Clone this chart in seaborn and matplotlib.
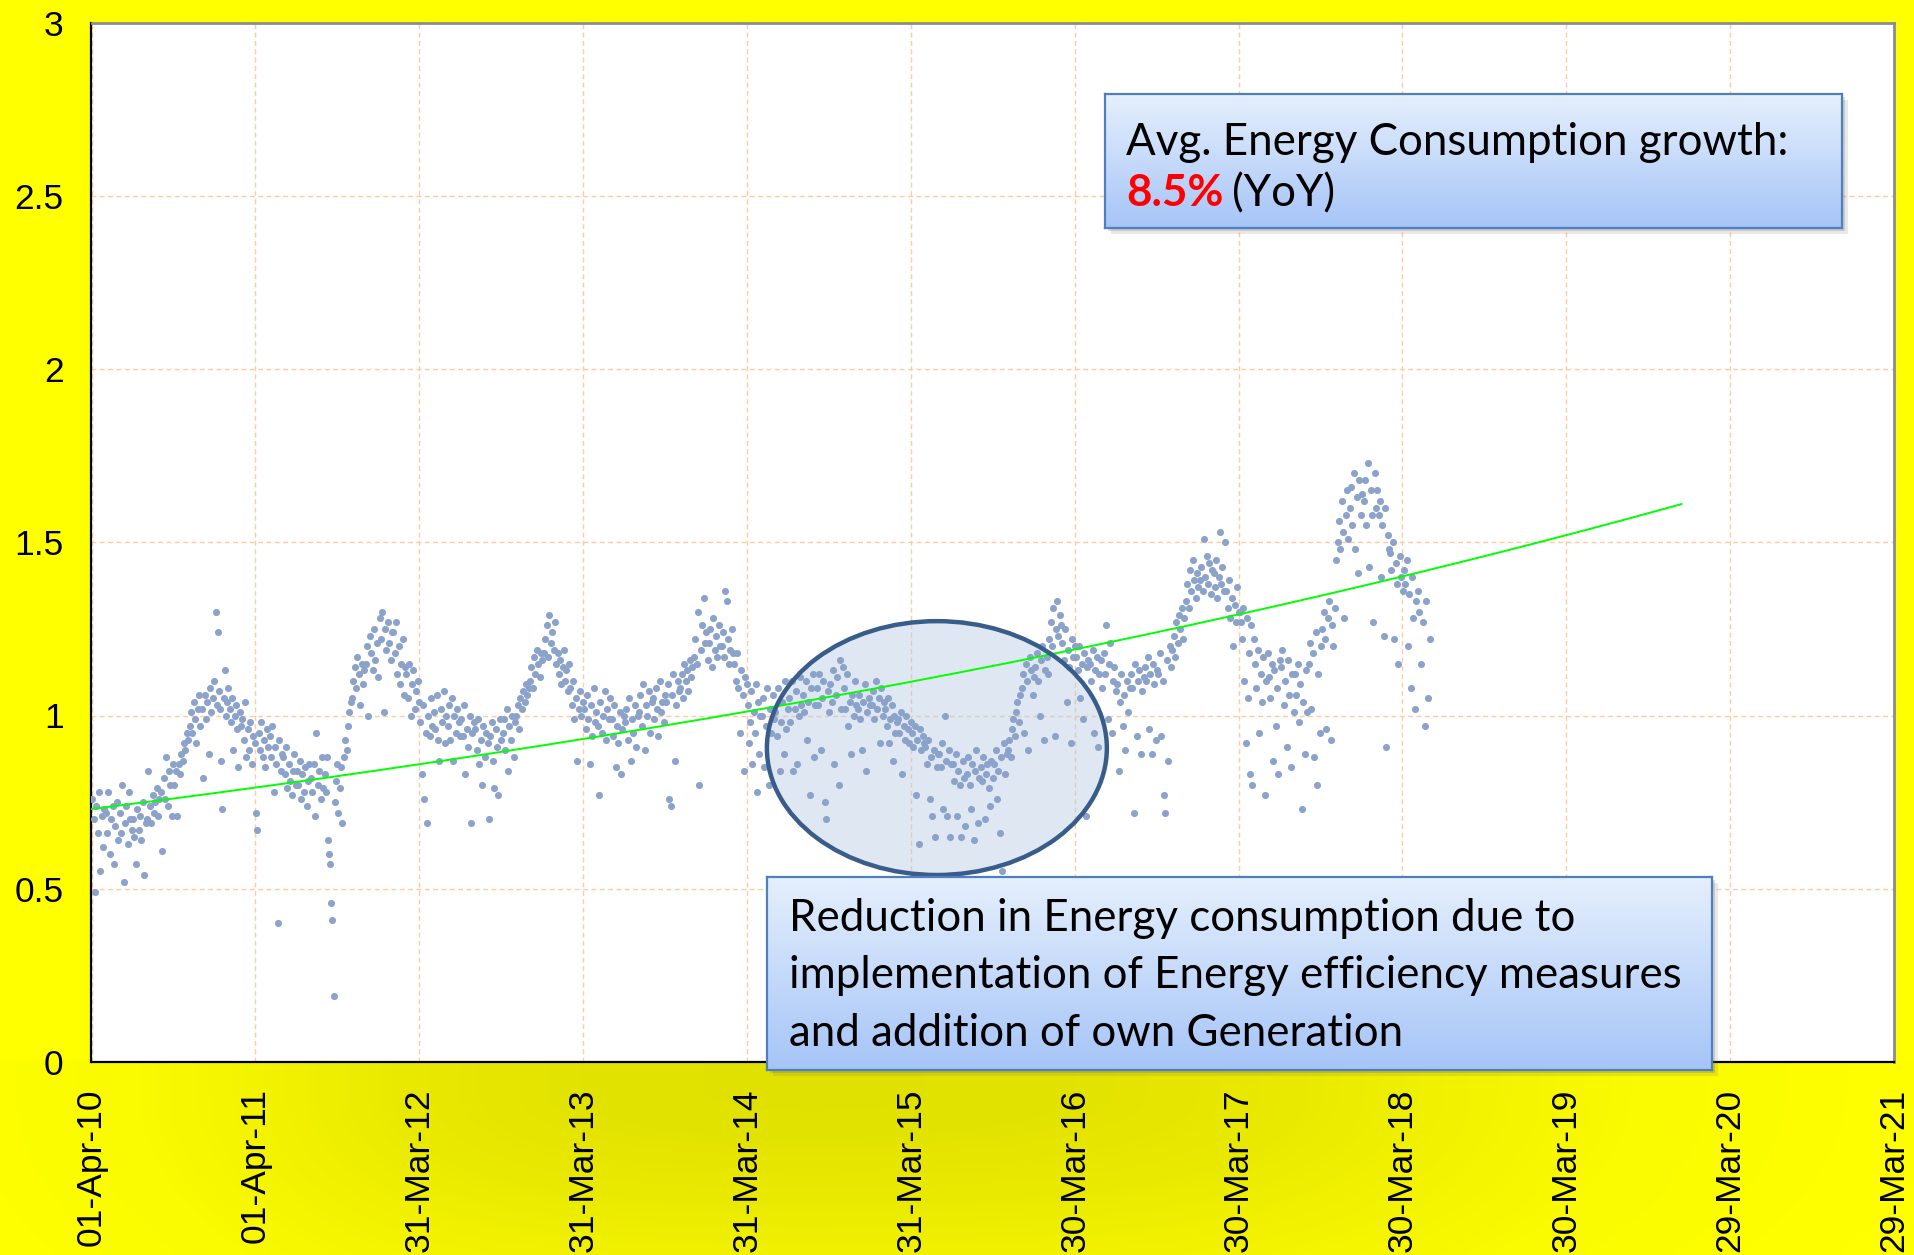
import numpy as np
import pandas as pd
import matplotlib
matplotlib.use("Agg")
import matplotlib.pyplot as plt
import seaborn as sns
from matplotlib.patches import Ellipse, Rectangle

# ---------------- data (monthly samples of daily values) -------------
first_month = "2010-04-01"
fy2010 = [
    [0.76, 0.70, 0.49, 0.74, 0.66, 0.78, 0.55, 0.71, 0.62, 0.73],
    [0.72, 0.66, 0.78, 0.60, 0.70, 0.74, 0.57, 0.68, 0.75, 0.64],
    [0.72, 0.66, 0.80, 0.52, 0.69, 0.74, 0.63, 0.78, 0.70, 0.67],
    [0.70, 0.65, 0.57, 0.73, 0.67, 0.71, 0.64, 0.75, 0.54, 0.69],
    [0.70, 0.84, 0.74, 0.69, 0.77, 0.72, 0.75, 0.79, 0.71, 0.76],
    [0.78, 0.61, 0.82, 0.76, 0.88, 0.74, 0.84, 0.80, 0.71, 0.86],
    [0.80, 0.84, 0.71, 0.86, 0.83, 0.89, 0.87, 0.92, 0.90, 0.95],
    [0.93, 0.97, 1.01, 0.95, 1.04, 0.99, 0.92, 1.02, 1.06, 0.97],
    [1.02, 0.82, 1.06, 0.99, 1.04, 0.89, 1.08, 1.01, 1.05, 1.10],
    [1.30, 1.03, 1.24, 1.07, 1.02, 0.87, 0.73, 1.05, 1.13, 1.00, 1.04, 1.08],
    [1.02, 0.98, 1.05, 0.90, 1.00, 1.03, 0.96, 0.85, 1.01, 0.97],
    [0.99, 0.93, 1.04, 0.88, 0.96, 0.90, 0.98, 0.86, 0.94, 0.92],
]
fy2011 = [
    [0.72, 0.67, 0.95, 0.90, 0.98, 0.88, 0.93, 0.85, 0.96, 0.91],
    [0.94, 0.88, 0.97, 0.78, 0.91, 0.86, 0.40, 0.93, 0.84, 0.89],
    [0.88, 0.83, 0.91, 0.79, 0.86, 0.81, 0.77, 0.84, 0.89, 0.80],
    [0.84, 0.80, 0.87, 0.76, 0.83, 0.78, 0.85, 0.74, 0.81, 0.86],
    [0.82, 0.78, 0.86, 0.71, 0.95, 0.80, 0.84, 0.76, 0.88, 0.79],
    [0.83, 0.78, 0.88, 0.64, 0.60, 0.57, 0.46, 0.41, 0.19, 0.75, 0.81, 0.86],
    [0.72, 0.79, 0.85, 0.69, 0.88, 0.93, 0.90, 0.97, 1.01, 1.04],
    [1.05, 1.10, 1.14, 1.08, 1.17, 1.12, 1.03, 1.15, 1.09, 1.13],
    [1.15, 1.20, 1.00, 1.23, 1.18, 1.13, 1.25, 1.16, 1.21, 1.11],
    [1.28, 1.22, 1.30, 1.01, 1.25, 1.19, 1.27, 1.21, 1.16, 1.24],
    [1.24, 1.18, 1.27, 1.12, 1.20, 1.09, 1.15, 1.22, 1.06, 1.14],
    [1.12, 1.05, 1.15, 1.00, 1.09, 1.13, 1.02, 1.07, 1.10, 1.04],
]
fy2012 = [
    [0.98, 0.83, 1.03, 0.76, 0.95, 0.69, 1.00, 0.94, 1.05, 0.97],
    [1.01, 0.96, 1.06, 0.93, 0.87, 1.02, 0.98, 1.07, 0.92, 1.00],
    [0.97, 1.03, 0.93, 1.05, 0.87, 1.00, 0.95, 1.02, 0.98, 0.94],
    [0.99, 0.94, 1.03, 0.83, 0.96, 0.91, 1.00, 0.69, 0.95, 0.98],
    [0.96, 0.90, 0.99, 0.86, 0.93, 0.80, 0.97, 0.88, 0.95, 0.92],
    [0.70, 0.94, 0.98, 0.87, 0.79, 0.96, 0.91, 0.77, 0.99, 0.93],
    [0.95, 0.99, 0.90, 1.02, 0.84, 0.97, 0.93, 1.00, 0.88, 0.98],
    [1.00, 1.03, 0.96, 1.05, 1.02, 1.07, 1.04, 1.09, 1.06, 1.08],
    [1.10, 1.14, 1.08, 1.17, 1.12, 1.19, 1.15, 1.11, 1.18, 1.16],
    [1.18, 1.22, 1.26, 1.17, 1.29, 1.21, 1.24, 1.19, 1.27, 1.15],
    [1.18, 1.12, 1.16, 1.09, 1.14, 1.19, 1.10, 1.13, 1.07, 1.15],
    [1.08, 1.03, 1.10, 0.99, 1.05, 0.87, 1.02, 1.07, 1.00, 1.04],
]
fy2013 = [
    [1.02, 0.96, 1.06, 0.99, 0.86, 1.03, 0.94, 1.08, 0.98, 1.01],
    [0.97, 0.77, 1.04, 0.95, 1.00, 1.07, 0.93, 1.02, 0.99, 1.05],
    [0.99, 0.94, 1.03, 0.85, 0.97, 0.92, 1.01, 0.83, 0.96, 1.00],
    [0.98, 1.02, 0.93, 1.05, 0.87, 0.99, 0.95, 1.03, 0.91, 1.00],
    [1.01, 1.06, 0.97, 1.09, 0.90, 1.03, 1.00, 1.07, 0.95, 1.04],
    [1.05, 0.99, 1.08, 1.02, 0.94, 1.10, 1.01, 1.04, 0.98, 1.06],
    [1.04, 1.09, 0.76, 0.74, 1.06, 1.12, 0.87, 1.03, 1.10, 1.07],
    [1.08, 1.12, 1.05, 1.15, 1.10, 1.13, 1.07, 1.16, 1.11, 1.14],
    [1.17, 1.22, 1.15, 1.30, 0.80, 1.19, 1.26, 1.34, 1.21, 1.24],
    [1.16, 1.21, 1.25, 1.14, 1.28, 1.19, 1.23, 1.17, 1.26, 1.20],
    [1.20, 1.24, 1.17, 1.36, 1.33, 1.22, 1.15, 1.19, 1.25, 1.18],
    [1.15, 1.10, 1.18, 1.08, 0.95, 1.13, 1.06, 0.84, 1.11, 1.09],
]
fy2014 = [
    [1.03, 0.92, 0.98, 1.07, 0.86, 1.01, 0.95, 1.09, 0.78, 1.04, 0.89, 1.00],
    [1.00, 1.05, 0.85, 0.97, 1.08, 0.80, 1.02, 0.95, 1.06, 0.99],
    [1.01, 0.94, 1.08, 0.84, 0.98, 1.04, 0.89, 1.10, 0.96, 1.02],
    [1.05, 0.98, 1.10, 0.84, 1.02, 1.07, 0.86, 1.00, 1.11, 1.03],
    [1.06, 1.01, 1.10, 0.93, 1.04, 0.77, 1.08, 1.12, 0.88, 1.03],
    [1.08, 1.03, 1.12, 0.90, 1.05, 1.10, 0.75, 0.70, 1.07, 1.01],
    [1.09, 1.04, 1.13, 0.86, 1.06, 1.11, 0.80, 1.16, 1.02, 1.14],
    [1.08, 1.02, 1.12, 0.97, 1.04, 0.89, 1.06, 1.00, 1.10, 1.03],
    [1.02, 1.06, 0.99, 0.90, 1.04, 1.09, 0.84, 1.01, 1.05, 1.03],
    [1.03, 1.07, 0.99, 1.10, 1.02, 1.05, 0.92, 1.08, 1.00, 1.04],
    [1.02, 0.97, 1.05, 0.92, 0.99, 1.03, 0.87, 1.00, 0.95, 0.98],
    [0.99, 0.95, 1.01, 0.83, 0.97, 0.93, 1.00, 0.96, 0.92, 0.98],
]
fy2015 = [
    [0.95, 0.91, 0.97, 0.77, 0.93, 0.63, 0.96, 0.90, 0.94, 0.92],
    [0.91, 0.86, 0.93, 0.76, 0.88, 0.71, 0.90, 0.65, 0.85, 0.89],
    [0.89, 0.85, 0.92, 0.73, 1.00, 0.87, 0.71, 0.90, 0.65, 0.86],
    [0.86, 0.81, 0.89, 0.71, 0.84, 0.80, 0.65, 0.87, 0.82, 0.68],
    [0.83, 0.88, 0.80, 0.73, 0.86, 0.64, 0.84, 0.90, 0.69, 0.82],
    [0.85, 0.81, 0.88, 0.70, 0.83, 0.86, 0.79, 0.74, 0.87, 0.82],
    [0.86, 0.90, 0.76, 0.84, 0.66, 0.88, 0.55, 0.92, 0.83, 0.89],
    [0.90, 0.93, 0.88, 0.96, 0.99, 0.94, 1.01, 1.04, 0.98, 1.06],
    [1.08, 1.12, 0.95, 1.15, 1.10, 0.90, 1.17, 1.13, 1.06, 1.11],
    [1.14, 1.18, 1.10, 1.00, 1.16, 1.20, 0.93, 1.13, 1.17, 1.12],
    [1.22, 1.27, 1.20, 1.31, 0.94, 1.25, 1.33, 1.23, 1.29, 1.26],
    [1.21, 1.16, 1.25, 1.04, 1.19, 1.14, 0.92, 1.22, 1.17, 1.20],
]
fy2016 = [
    [1.17, 1.13, 1.20, 1.05, 1.15, 0.99, 1.18, 0.71, 1.14, 1.16],
    [1.15, 1.10, 1.19, 0.95, 1.13, 1.17, 0.91, 1.12, 1.16, 1.08],
    [1.18, 1.12, 1.26, 0.99, 1.15, 1.21, 0.95, 1.10, 1.14, 1.07],
    [1.09, 0.84, 1.04, 1.12, 0.97, 1.06, 0.90, 1.10, 1.01, 1.08],
    [1.12, 1.08, 0.72, 1.15, 0.94, 1.10, 1.13, 0.89, 1.07, 1.11],
    [1.14, 1.10, 1.17, 0.96, 1.12, 0.89, 1.15, 1.09, 0.93, 1.13],
    [1.12, 1.18, 0.94, 1.10, 0.77, 0.72, 1.16, 0.87, 1.20, 1.14],
    [1.19, 1.23, 1.17, 1.27, 1.21, 1.29, 1.25, 1.31, 1.22, 1.28],
    [1.33, 1.38, 1.31, 1.42, 1.36, 1.45, 1.39, 1.34, 1.41, 1.37],
    [1.39, 1.43, 1.36, 1.51, 1.40, 1.46, 1.38, 1.44, 1.35, 1.42],
    [1.41, 1.37, 1.45, 1.34, 1.40, 1.53, 1.38, 1.43, 1.36, 1.50],
    [1.36, 1.31, 1.39, 1.28, 1.34, 1.20, 1.32, 1.27, 1.37, 1.30],
]
fy2017 = [
    [1.30, 1.27, 1.22, 1.31, 1.10, 0.92, 1.28, 1.05, 1.18, 0.83, 1.26, 0.80],
    [1.22, 1.15, 1.08, 1.19, 0.95, 1.12, 1.04, 1.17, 0.77, 1.10],
    [1.18, 1.11, 1.05, 1.15, 0.87, 1.13, 0.97, 1.08, 0.83, 1.16],
    [1.14, 1.19, 1.03, 1.10, 0.91, 1.16, 1.06, 0.85, 1.12, 1.01],
    [1.12, 1.06, 1.15, 0.98, 1.09, 0.73, 1.04, 0.89, 1.13, 1.01],
    [1.15, 1.21, 1.02, 1.18, 0.88, 1.24, 0.80, 1.12, 0.95, 1.20],
    [1.25, 1.30, 1.22, 0.96, 1.28, 1.33, 0.93, 1.26, 1.20, 1.31],
    [1.45, 1.50, 1.56, 1.48, 1.62, 1.53, 1.28, 1.58, 1.65, 1.51],
    [1.60, 1.66, 1.55, 1.70, 1.48, 1.63, 1.41, 1.68, 1.58, 1.64],
    [1.62, 1.68, 1.55, 1.73, 1.43, 1.65, 1.58, 1.27, 1.70, 1.60],
    [1.65, 1.58, 1.62, 1.40, 1.55, 1.23, 1.60, 0.91, 1.52, 1.48],
    [1.47, 1.42, 1.50, 1.22, 1.44, 1.38, 1.15, 1.46, 1.40, 1.36],
]
fy2018 = [
    [1.42, 1.38, 1.45, 1.20, 1.35, 1.08, 1.40, 1.28, 1.02, 1.33],
    [1.36, 1.30, 1.15, 1.27, 0.97, 1.33, 1.05, 1.22],
]

x_tick_labels = ["01-Apr-10", "01-Apr-11", "31-Mar-12", "31-Mar-13", "31-Mar-14",
                 "31-Mar-15", "30-Mar-16", "30-Mar-17", "30-Mar-18", "30-Mar-19",
                 "29-Mar-20", "29-Mar-21"]
y_ticks = [0, 0.5, 1, 1.5, 2, 2.5, 3]
y_tick_labels = ["0", "0.5", "1", "1.5", "2", "2.5", "3"]

trend_start_value = 0.73      # exponential trend at 01-Apr-10
trend_growth = 0.085          # 8.5 % YoY
trend_end = "2019-12-15"

note_top_line1 = "Avg. Energy Consumption growth:"
note_top_value = "8.5%"
note_top_rest = "(YoY)"
note_bottom = ["Reduction in Energy consumption due to",
               "implementation of Energy efficiency measures",
               "and addition of own Generation"]

# ---------------- build tables ----------------
months = [m for fy in (fy2010, fy2011, fy2012, fy2013, fy2014, fy2015,
                       fy2016, fy2017, fy2018) for m in fy]
starts = pd.date_range(first_month, periods=len(months), freq="MS")
rows = []
for start, vals in zip(starts, months):
    nd = start.days_in_month
    n = len(vals)
    for i, v in enumerate(vals):
        rows.append((start + pd.Timedelta(days=(i + 0.5) * nd / n), v))
df = pd.DataFrame(rows, columns=["date", "value"])

t0 = pd.Timestamp(first_month)
trend_dates = pd.date_range(t0, trend_end, freq="7D")
trend_years = (trend_dates - t0).days / 365.25
trend_df = pd.DataFrame({"date": trend_dates,
                         "value": trend_start_value * (1 + trend_growth) ** np.asarray(trend_years)})

tick_dates = pd.to_datetime(x_tick_labels, format="%d-%b-%y")

# ---------------- figure ----------------
W, H = 1915, 1255
sns.set_style("white")
plt.rcParams["font.family"] = ["Liberation Sans", "DejaVu Sans"]

fig = plt.figure(figsize=(W / 100, H / 100), dpi=100, facecolor="#FFFF00")

# soft shadow on the yellow background below the plot
bg = fig.add_axes([0, 0, 1, 1], zorder=-5)
bg.set_xlim(0, W); bg.set_ylim(H, 0); bg.axis("off")
yy, xx = np.mgrid[0:H:5, 0:W:5]
gx = 1 / (1 + np.exp(-(xx - 300) / 110.0)) * 1 / (1 + np.exp((xx - 1420) / 140.0))
gy = np.where(yy < 1060, 0.0, np.exp(-((np.maximum(yy - 1090, 0)) / 190.0) ** 2))
alpha = 0.17 * gx * gy
rgba = np.zeros(yy.shape + (4,))
rgba[..., 0] = 0.3; rgba[..., 1] = 0.3; rgba[..., 2] = 0.0
rgba[..., 3] = alpha
bg.imshow(rgba, extent=[0, W, H, 0], aspect="auto", interpolation="bilinear")

def fig_rect(x0, y0, x1, y1):
    return [x0 / W, 1 - y1 / H, (x1 - x0) / W, (y1 - y0) / H]

ax = fig.add_axes(fig_rect(91.5, 22.5, 1894, 1062), zorder=1)
ax.set_facecolor("white")

pt_color = "#8BA3CA"
sns.scatterplot(data=df, x="date", y="value", color=pt_color, s=26,
                linewidth=0, ax=ax, zorder=3)
sns.lineplot(data=trend_df, x="date", y="value", color="#00FF00", lw=1.4,
             ax=ax, zorder=4)

ax.set_xlim(tick_dates[0], tick_dates[-1])
ax.set_ylim(0, 3)
ax.set_xticks(tick_dates)
ax.set_xticklabels(x_tick_labels, rotation=90)
ax.set_yticks(y_ticks)
ax.set_yticklabels(y_tick_labels)
ax.set_xlabel(""); ax.set_ylabel("")
ax.grid(True, color="#FFCBA0", ls=(0, (3.5, 2.5)), lw=1.0)
ax.set_axisbelow(True)
ax.tick_params(axis="both", direction="out", length=8, width=1.2, colors="black",
               labelsize=25.5)
ax.tick_params(axis="y", pad=12)
ax.tick_params(axis="x", pad=11)
for s in ("left", "bottom"):
    ax.spines[s].set_color("black"); ax.spines[s].set_linewidth(1.6)
for s in ("top", "right"):
    ax.spines[s].set_color("#8C8C8C"); ax.spines[s].set_linewidth(2.0)

# highlighted ellipse
ell_fill = Ellipse((0.469, 0.302), 0.1886, 0.2442, transform=ax.transAxes,
                   facecolor="#B8CCE4", alpha=0.45, edgecolor="none", zorder=2)
ell_edge = Ellipse((0.469, 0.302), 0.1886, 0.2442, transform=ax.transAxes,
                   facecolor="none", edgecolor="#385D8A", lw=3.2, zorder=5)
ax.add_patch(ell_fill); ax.add_patch(ell_edge)

# ---------------- callout boxes ----------------
grad = np.linspace(0, 1, 256).reshape(-1, 1)
top_c = np.array([0.90, 0.94, 0.99]); bot_c = np.array([0.65, 0.77, 0.97])
grad_img = top_c[None, None, :] * (1 - grad[..., None]) + bot_c[None, None, :] * grad[..., None]

def callout(x0, y0, x1, y1):
    for off, a in ((3, 0.22), (6, 0.14)):
        sh = Rectangle(((x0 + off) / W, 1 - (y1 + off) / H), (x1 - x0) / W, (y1 - y0) / H,
                       transform=fig.transFigure, facecolor="#606060", alpha=a,
                       edgecolor="none", zorder=9)
        fig.patches.append(sh)
    b = fig.add_axes(fig_rect(x0, y0, x1, y1), zorder=10)
    b.imshow(grad_img, extent=[0, 1, 0, 1], aspect="auto", interpolation="bilinear")
    b.set_xticks([]); b.set_yticks([])
    for s in b.spines.values():
        s.set_color("#4F7FBF"); s.set_linewidth(1.6)
    return b

callout(1105, 94, 1842, 228)
callout(767, 877, 1712, 1070)

box_font = ["Lato", "DejaVu Sans"]
t1 = fig.text(1126 / W, 1 - 155 / H, note_top_line1, fontsize=31.6, family=box_font,
              color="black", va="baseline", ha="left", zorder=11)
t2 = fig.text(1126 / W, 1 - 206 / H, note_top_value, fontsize=31.6, family=box_font,
              color="#FF0000", fontweight="bold", va="baseline", ha="left", zorder=11)
fig.canvas.draw()
bb = t2.get_window_extent(fig.canvas.get_renderer())
fig.text((bb.x1 + 9) / W, 1 - 206 / H, note_top_rest, fontsize=31.6, family=box_font,
         color="black", va="baseline", ha="left", zorder=11)

for line, base in zip(note_bottom, (931, 988, 1046)):
    fig.text(789 / W, 1 - base / H, line, fontsize=31.6, family=box_font,
             color="black", va="baseline", ha="left", zorder=11)

fig.savefig("out.png", dpi=100, facecolor=fig.get_facecolor())
